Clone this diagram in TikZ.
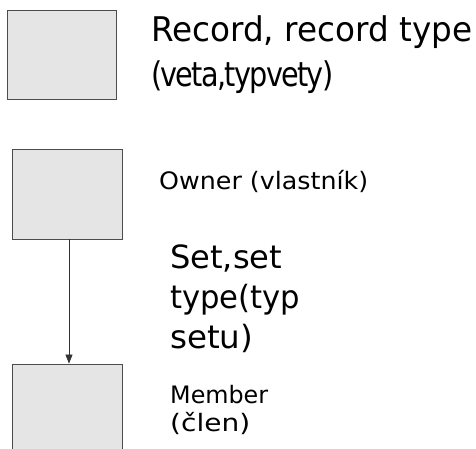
\documentclass[tikz,border=0pt]{standalone}
\usepackage{fontspec}
\usepackage{graphicx}
\setmainfont{DejaVu Sans}
\usetikzlibrary{arrows.meta}
% set a line at its natural height, stretched or squeezed to a given width
\newcommand{\fitline}[2]{\resizebox{#1pt}{\height}{#2}}
\tikzset{
  entity/.style={draw=black!70, fill=black!10, line width=0.8pt,
    rectangle, minimum width=110pt, minimum height=90pt, inner sep=0pt},
  label/.style={anchor=base west, inner sep=0pt, text=black},
  link/.style={draw=black!80, line width=0.7pt,
    -{Triangle[length=9pt,width=7pt]}},
}
\begin{document}
\begin{tikzpicture}[x=1pt, y=-1pt]
  \useasboundingbox (0,0) rectangle (476,448);
  \clip (0,0) rectangle (476,448);
  % legend: a record type
  \node[entity, minimum width=109pt, minimum height=89pt] (rec) at (61.5,54.5) {};
  \node[label, font=\fontsize{34}{40}\selectfont] (rt1) at (151,41) {\fitline{321}{Record, record type}};
  \node[label, font=\fontsize{34}{40}\selectfont\addfontfeature{LetterSpace=-6}] (rt2) at (151,86) {\fitline{182}{(veta,typvety)}};
  % a set type: owner above, member below
  \node[entity] (own) at (67,194) {};
  \node[entity] (mem) at (67,409) {};
  \draw[link] ([xshift=2pt]own.south) -- ([xshift=2pt]mem.north);
  \node[label, font=\fontsize{24}{29}\selectfont] (ow) at (159,189) {\fitline{209}{Owner (vlastník)}};
  \node[label, font=\fontsize{32}{40}\selectfont] (s1) at (170,268) {\fitline{112}{Set,set}};
  \node[label, font=\fontsize{32}{40}\selectfont] (s2) at (170,308) {\fitline{130}{type(typ}};
  \node[label, font=\fontsize{32}{40}\selectfont] (s3) at (170,348) {\fitline{83}{setu)}};
  \node[label, font=\fontsize{24}{29}\selectfont] (m1) at (170,403) {\fitline{98}{Member}};
  \node[label, font=\fontsize{24}{29}\selectfont] (m2) at (170,431) {\fitline{80}{(člen)}};
\end{tikzpicture}
\end{document}
